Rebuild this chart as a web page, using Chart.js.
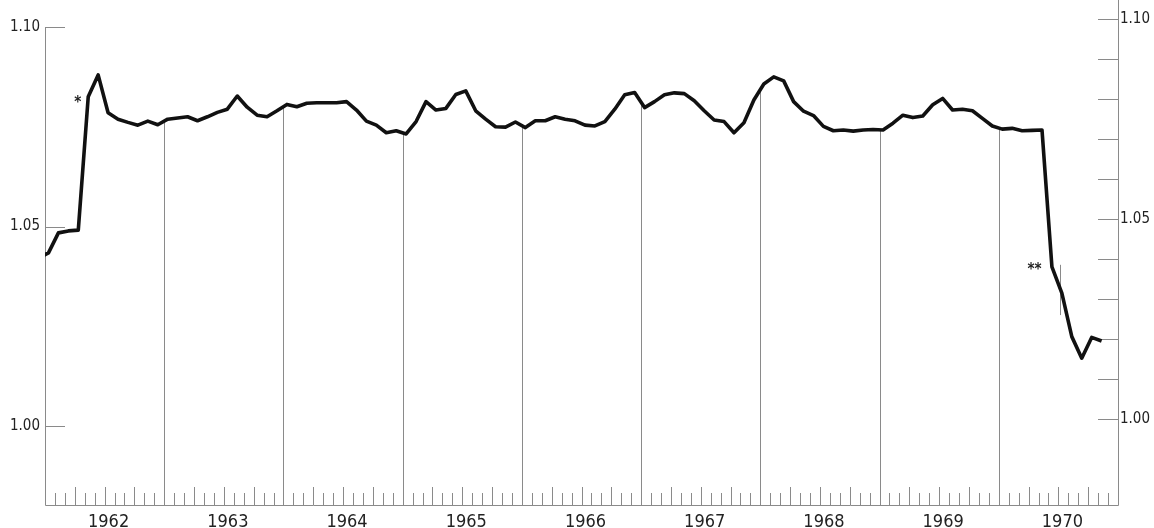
<!DOCTYPE html>
<html>
<head>
<meta charset="utf-8">
<script src="https://cdn.jsdelivr.net/npm/chart.js"></script>
<style>
  html, body { margin: 0; padding: 0; background: #fff; }
  #wrap { width: 1154px; height: 528px; }
</style>
</head>
<body>
<div id="wrap"><canvas id="grafico" width="1154" height="528"></canvas></div>
<script>
// year labels on the bottom axis
var years = ["1962", "1963", "1964", "1965", "1966", "1967", "1968", "1969", "1970"];

// monthly ratio (Dec 1961 .. Nov 1970)
var v1961 = [1.0421];
var v1962 = [1.0434, 1.0484, 1.0489, 1.0491, 1.0825, 1.0880, 1.0785, 1.0769, 1.0761, 1.0754, 1.0764, 1.0755];
var v1963 = [1.0769, 1.0772, 1.0775, 1.0765, 1.0775, 1.0786, 1.0794, 1.0827, 1.0799, 1.0779, 1.0775, 1.0790];
var v1964 = [1.0806, 1.0800, 1.0809, 1.0810, 1.0810, 1.0810, 1.0813, 1.0792, 1.0764, 1.0754, 1.0735, 1.0740];
var v1965 = [1.0732, 1.0763, 1.0813, 1.0792, 1.0796, 1.0831, 1.0840, 1.0790, 1.0769, 1.0750, 1.0749, 1.0762];
var v1966 = [1.0748, 1.0765, 1.0765, 1.0775, 1.0769, 1.0765, 1.0754, 1.0752, 1.0763, 1.0794, 1.0830, 1.0836];
var v1967 = [1.0798, 1.0813, 1.0830, 1.0835, 1.0833, 1.0815, 1.0790, 1.0767, 1.0763, 1.0735, 1.0760, 1.0817];
var v1968 = [1.0857, 1.0875, 1.0865, 1.0813, 1.0789, 1.0778, 1.0751, 1.0740, 1.0742, 1.0739, 1.0742, 1.0743];
var v1969 = [1.0742, 1.0759, 1.0779, 1.0773, 1.0777, 1.0805, 1.0821, 1.0792, 1.0794, 1.0790, 1.0771, 1.0752];
var v1970 = [1.0744, 1.0746, 1.0740, 1.0741, 1.0742, 1.0399, 1.0333, 1.0224, 1.0170, 1.0222, 1.0213];

// left axis labels, right axis ticks
var leftTicks = [1.00, 1.05, 1.10];
var rightTicks = [1.00, 1.01, 1.02, 1.03, 1.04, 1.05, 1.06, 1.07, 1.08, 1.09, 1.10];

// footnote marks: [text, month, value]
var notas = [["*", 3.3, 1.0818], ["**", 99.6, 1.0398]];
// short bar near the 1970 break: [month, from, to]
var barra = [102.2, 1.0404, 1.0278];

var serie = [].concat(v1961, v1962, v1963, v1964, v1965, v1966, v1967, v1968, v1969, v1970);
var puntos = [];
for (var i = 0; i < serie.length; i++) {
  // first value is Dec 1961; points sit a bit into their month
  puntos.push({ x: i - 1 + 0.35, y: serie[i] });
}

var tinta = "#222";
var gris = "#8a8a8a";
var fuente = "'DejaVu Sans Condensed', 'DejaVu Sans', sans-serif";

function valorEn(mes) {
  for (var i = 0; i < puntos.length - 1; i++) {
    var a = puntos[i], b = puntos[i + 1];
    if (mes >= a.x && mes <= b.x) {
      return a.y + (b.y - a.y) * (mes - a.x) / (b.x - a.x);
    }
  }
  return puntos[puntos.length - 1].y;
}

var ejes = {
  id: "ejes",
  beforeDatasetsDraw: function (chart) {
    var ctx = chart.ctx;
    var x = chart.scales.x, y = chart.scales.y, y2 = chart.scales.y2;
    var a = chart.chartArea;
    ctx.save();
    ctx.strokeStyle = gris;
    ctx.lineWidth = 1;

    // axis lines
    ctx.beginPath();
    ctx.moveTo(a.left + 0.5, y.getPixelForValue(1.10));
    ctx.lineTo(a.left + 0.5, a.bottom + 0.5);
    ctx.lineTo(a.right + 0.5, a.bottom + 0.5);
    ctx.lineTo(a.right + 0.5, a.top);
    ctx.stroke();

    // inward ticks
    ctx.beginPath();
    for (var i = 0; i < leftTicks.length; i++) {
      var py = Math.round(y.getPixelForValue(leftTicks[i])) + 0.5;
      ctx.moveTo(a.left, py);
      ctx.lineTo(a.left + 20, py);
    }
    for (var j = 0; j < rightTicks.length; j++) {
      var qy = Math.round(y2.getPixelForValue(rightTicks[j])) + 0.5;
      ctx.moveTo(a.right - 20, qy);
      ctx.lineTo(a.right, qy);
    }
    // month ticks, quarters taller, year lines up to the curve
    for (var m = 1; m < 108; m++) {
      var px = Math.round(x.getPixelForValue(m)) + 0.5;
      ctx.moveTo(px, a.bottom);
      if (m % 12 === 0) {
        ctx.lineTo(px, y.getPixelForValue(valorEn(m)));
      } else if (m % 3 === 0) {
        ctx.lineTo(px, a.bottom - 18);
      } else {
        ctx.lineTo(px, a.bottom - 12);
      }
    }
    // break marker
    var bx = Math.round(x.getPixelForValue(barra[0])) + 0.5;
    ctx.moveTo(bx, y.getPixelForValue(barra[1]));
    ctx.lineTo(bx, y.getPixelForValue(barra[2]));
    ctx.stroke();
    ctx.restore();
  },
  afterDatasetsDraw: function (chart) {
    var ctx = chart.ctx;
    var x = chart.scales.x, y = chart.scales.y;
    ctx.save();
    ctx.fillStyle = tinta;
    ctx.font = "bold 15px " + fuente;
    ctx.textAlign = "center";
    ctx.textBaseline = "middle";
    for (var i = 0; i < notas.length; i++) {
      ctx.fillText(notas[i][0], x.getPixelForValue(notas[i][1]), y.getPixelForValue(notas[i][2]) + 3);
    }
    ctx.restore();
  }
};

new Chart(document.getElementById("grafico").getContext("2d"), {
  type: "line",
  data: {
    datasets: [{
      data: puntos,
      borderColor: "#111",
      borderWidth: 3.6,
      borderJoinStyle: "round",
      pointRadius: 0,
      tension: 0,
      clip: 0,
      yAxisID: "y"
    }]
  },
  options: {
    responsive: false,
    animation: false,
    layout: { padding: 0 },
    plugins: { legend: { display: false }, tooltip: { enabled: false } },
    scales: {
      x: {
        type: "linear",
        min: 0,
        max: 108,
        grid: { display: false, drawTicks: false },
        border: { display: false },
        afterBuildTicks: function (scale) {
          scale.ticks = years.map(function (yy, k) { return { value: 6 + 12 * k }; });
        },
        ticks: {
          color: tinta,
          font: { family: fuente, size: 18 },
          padding: 7,
          labelOffset: 4,
          maxRotation: 0,
          autoSkip: false,
          callback: function (v) { return years[(v - 6) / 12]; }
        },
        afterFit: function (scale) {
          scale.height = 23;
          scale.paddingLeft = 0;
          scale.paddingRight = 0;
        }
      },
      y: {
        position: "left",
        min: 0.9802,
        max: 1.10677,
        grid: { display: false, drawTicks: false },
        border: { display: false },
        afterBuildTicks: function (scale) {
          scale.ticks = leftTicks.map(function (v) { return { value: v }; });
        },
        ticks: {
          color: tinta,
          font: { family: fuente, size: 15 },
          padding: 5,
          callback: function (v) { return v.toFixed(2); }
        },
        afterFit: function (scale) {
          scale.width = 45;
          scale.paddingTop = 0;
          scale.paddingBottom = 0;
        }
      },
      y2: {
        position: "right",
        min: 0.9785,
        max: 1.10475,
        grid: { display: false, drawTicks: false },
        border: { display: false },
        afterBuildTicks: function (scale) {
          scale.ticks = rightTicks.map(function (v) { return { value: v }; });
        },
        ticks: {
          color: tinta,
          font: { family: fuente, size: 15 },
          padding: 2,
          callback: function (v) {
            return Math.round(v * 100) % 5 === 0 ? v.toFixed(2) : "";
          }
        },
        afterFit: function (scale) {
          scale.width = 36;
          scale.paddingTop = 0;
          scale.paddingBottom = 0;
        }
      }
    }
  },
  plugins: [ejes]
});
</script>
</body>
</html>
